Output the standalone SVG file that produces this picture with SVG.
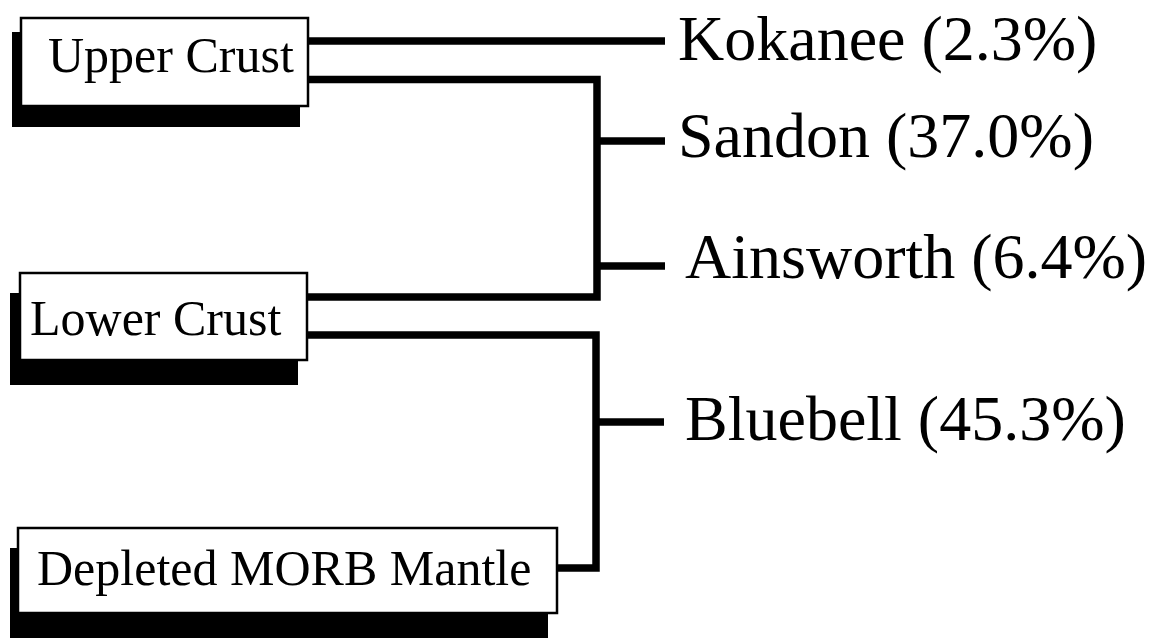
<svg xmlns="http://www.w3.org/2000/svg" width="1155" height="638" viewBox="0 0 1155 638">
<style>
.shadow{fill:#000}
.box{fill:#fff;stroke:#000;stroke-width:2.5}
.lbl{font-family:"Liberation Serif","Times New Roman",serif;font-size:50px;fill:#000}
.out{font-family:"Liberation Serif","Times New Roman",serif;font-size:64px;fill:#000}
.conn{fill:none;stroke:#000;stroke-width:7.5;stroke-linejoin:miter;stroke-linecap:butt}
</style>
<rect width="1155" height="638" fill="#fff"/>
<g id="connectors">
<path class="conn" d="M308 41 H665"/>
<path class="conn" d="M308 79.5 H597 V297 H308"/>
<path class="conn" d="M597 141 H665"/>
<path class="conn" d="M597 266 H665"/>
<path class="conn" d="M308 335 H596 V568 H557"/>
<path class="conn" d="M596 422 H664"/>
</g>
<g id="upper-crust">
<rect class="shadow" x="12" y="32" width="288" height="95"/>
<rect class="box" x="21" y="18" width="287" height="88"/>
<text class="lbl" x="48" y="72">Upper Crust</text>
</g>
<g id="lower-crust">
<rect class="shadow" x="10" y="293" width="288" height="92"/>
<rect class="box" x="20" y="273" width="287" height="87"/>
<text class="lbl" x="30" y="335">Lower Crust</text>
</g>
<g id="morb-mantle">
<rect class="shadow" x="10" y="548" width="538" height="95"/>
<rect class="box" x="18" y="528" width="539" height="85"/>
<text class="lbl" x="37" y="585">Depleted MORB Mantle</text>
</g>
<g id="kokanee"><text class="out" x="678" y="60">Kokanee (2.3%)</text></g>
<g id="sandon"><text class="out" x="678" y="157">Sandon (37.0%)</text></g>
<g id="ainsworth"><text class="out" x="685" y="278">Ainsworth (6.4%)</text></g>
<g id="bluebell"><text class="out" x="685" y="440">Bluebell (45.3%)</text></g>
</svg>
